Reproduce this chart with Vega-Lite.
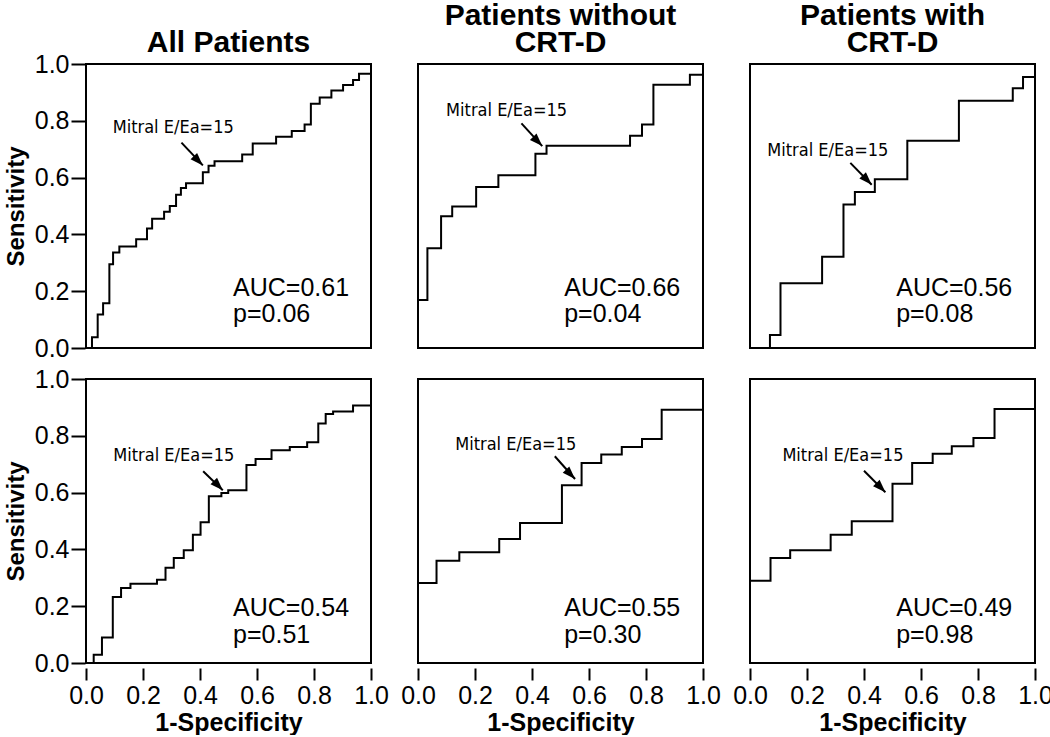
{
 "$schema": "https://vega.github.io/schema/vega-lite/v6.json",
 "background": "white",
 "padding": {"left": 4, "top": 1, "right": 5, "bottom": 0},
 "data": {"values": [
  {"c":"All Patients","r":1,"k":"curve","i":0,"x":0.021,"y":0},
  {"c":"All Patients","r":1,"k":"curve","i":1,"x":0.021,"y":0.038},
  {"c":"All Patients","r":1,"k":"curve","i":2,"x":0.041,"y":0.118},
  {"c":"All Patients","r":1,"k":"curve","i":3,"x":0.060,"y":0.158},
  {"c":"All Patients","r":1,"k":"curve","i":4,"x":0.082,"y":0.295},
  {"c":"All Patients","r":1,"k":"curve","i":5,"x":0.095,"y":0.336},
  {"c":"All Patients","r":1,"k":"curve","i":6,"x":0.117,"y":0.357},
  {"c":"All Patients","r":1,"k":"curve","i":7,"x":0.176,"y":0.383},
  {"c":"All Patients","r":1,"k":"curve","i":8,"x":0.214,"y":0.421},
  {"c":"All Patients","r":1,"k":"curve","i":9,"x":0.232,"y":0.455},
  {"c":"All Patients","r":1,"k":"curve","i":10,"x":0.274,"y":0.48},
  {"c":"All Patients","r":1,"k":"curve","i":11,"x":0.294,"y":0.50},
  {"c":"All Patients","r":1,"k":"curve","i":12,"x":0.316,"y":0.54},
  {"c":"All Patients","r":1,"k":"curve","i":13,"x":0.333,"y":0.563},
  {"c":"All Patients","r":1,"k":"curve","i":14,"x":0.351,"y":0.58},
  {"c":"All Patients","r":1,"k":"curve","i":15,"x":0.41,"y":0.619},
  {"c":"All Patients","r":1,"k":"curve","i":16,"x":0.43,"y":0.642},
  {"c":"All Patients","r":1,"k":"curve","i":17,"x":0.451,"y":0.658},
  {"c":"All Patients","r":1,"k":"curve","i":18,"x":0.548,"y":0.681},
  {"c":"All Patients","r":1,"k":"curve","i":19,"x":0.585,"y":0.72},
  {"c":"All Patients","r":1,"k":"curve","i":20,"x":0.667,"y":0.744},
  {"c":"All Patients","r":1,"k":"curve","i":21,"x":0.722,"y":0.764},
  {"c":"All Patients","r":1,"k":"curve","i":22,"x":0.767,"y":0.787},
  {"c":"All Patients","r":1,"k":"curve","i":23,"x":0.789,"y":0.86},
  {"c":"All Patients","r":1,"k":"curve","i":24,"x":0.82,"y":0.882},
  {"c":"All Patients","r":1,"k":"curve","i":25,"x":0.861,"y":0.907},
  {"c":"All Patients","r":1,"k":"curve","i":26,"x":0.902,"y":0.926},
  {"c":"All Patients","r":1,"k":"curve","i":27,"x":0.937,"y":0.944},
  {"c":"All Patients","r":1,"k":"curve","i":28,"x":0.958,"y":0.966},
  {"c":"All Patients","r":1,"k":"curve","i":29,"x":1.0,"y":1.0},

  {"c":"Patients without\nCRT-D","r":1,"k":"curve","i":0,"x":0,"y":0.169},
  {"c":"Patients without\nCRT-D","r":1,"k":"curve","i":1,"x":0.033,"y":0.351},
  {"c":"Patients without\nCRT-D","r":1,"k":"curve","i":2,"x":0.081,"y":0.464},
  {"c":"Patients without\nCRT-D","r":1,"k":"curve","i":3,"x":0.120,"y":0.498},
  {"c":"Patients without\nCRT-D","r":1,"k":"curve","i":4,"x":0.204,"y":0.567},
  {"c":"Patients without\nCRT-D","r":1,"k":"curve","i":5,"x":0.282,"y":0.608},
  {"c":"Patients without\nCRT-D","r":1,"k":"curve","i":6,"x":0.412,"y":0.684},
  {"c":"Patients without\nCRT-D","r":1,"k":"curve","i":7,"x":0.451,"y":0.712},
  {"c":"Patients without\nCRT-D","r":1,"k":"curve","i":8,"x":0.744,"y":0.747},
  {"c":"Patients without\nCRT-D","r":1,"k":"curve","i":9,"x":0.786,"y":0.787},
  {"c":"Patients without\nCRT-D","r":1,"k":"curve","i":10,"x":0.826,"y":0.927},
  {"c":"Patients without\nCRT-D","r":1,"k":"curve","i":11,"x":0.954,"y":0.962},
  {"c":"Patients without\nCRT-D","r":1,"k":"curve","i":12,"x":1.0,"y":1.0},

  {"c":"Patients with\nCRT-D","r":1,"k":"curve","i":0,"x":0.070,"y":0},
  {"c":"Patients with\nCRT-D","r":1,"k":"curve","i":1,"x":0.070,"y":0.046},
  {"c":"Patients with\nCRT-D","r":1,"k":"curve","i":2,"x":0.107,"y":0.228},
  {"c":"Patients with\nCRT-D","r":1,"k":"curve","i":3,"x":0.253,"y":0.321},
  {"c":"Patients with\nCRT-D","r":1,"k":"curve","i":4,"x":0.328,"y":0.505},
  {"c":"Patients with\nCRT-D","r":1,"k":"curve","i":5,"x":0.368,"y":0.549},
  {"c":"Patients with\nCRT-D","r":1,"k":"curve","i":6,"x":0.438,"y":0.594},
  {"c":"Patients with\nCRT-D","r":1,"k":"curve","i":7,"x":0.552,"y":0.73},
  {"c":"Patients with\nCRT-D","r":1,"k":"curve","i":8,"x":0.733,"y":0.871},
  {"c":"Patients with\nCRT-D","r":1,"k":"curve","i":9,"x":0.922,"y":0.915},
  {"c":"Patients with\nCRT-D","r":1,"k":"curve","i":10,"x":0.958,"y":0.954},
  {"c":"Patients with\nCRT-D","r":1,"k":"curve","i":11,"x":1.0,"y":1.0},

  {"c":"All Patients","r":2,"k":"curve","i":0,"x":0.027,"y":0},
  {"c":"All Patients","r":2,"k":"curve","i":1,"x":0.027,"y":0.029},
  {"c":"All Patients","r":2,"k":"curve","i":2,"x":0.056,"y":0.09},
  {"c":"All Patients","r":2,"k":"curve","i":3,"x":0.094,"y":0.232},
  {"c":"All Patients","r":2,"k":"curve","i":4,"x":0.123,"y":0.264},
  {"c":"All Patients","r":2,"k":"curve","i":5,"x":0.156,"y":0.279},
  {"c":"All Patients","r":2,"k":"curve","i":6,"x":0.249,"y":0.293},
  {"c":"All Patients","r":2,"k":"curve","i":7,"x":0.279,"y":0.335},
  {"c":"All Patients","r":2,"k":"curve","i":8,"x":0.308,"y":0.37},
  {"c":"All Patients","r":2,"k":"curve","i":9,"x":0.343,"y":0.397},
  {"c":"All Patients","r":2,"k":"curve","i":10,"x":0.375,"y":0.452},
  {"c":"All Patients","r":2,"k":"curve","i":11,"x":0.402,"y":0.496},
  {"c":"All Patients","r":2,"k":"curve","i":12,"x":0.431,"y":0.587},
  {"c":"All Patients","r":2,"k":"curve","i":13,"x":0.475,"y":0.599},
  {"c":"All Patients","r":2,"k":"curve","i":14,"x":0.499,"y":0.608},
  {"c":"All Patients","r":2,"k":"curve","i":15,"x":0.563,"y":0.697},
  {"c":"All Patients","r":2,"k":"curve","i":16,"x":0.595,"y":0.718},
  {"c":"All Patients","r":2,"k":"curve","i":17,"x":0.651,"y":0.749},
  {"c":"All Patients","r":2,"k":"curve","i":18,"x":0.715,"y":0.761},
  {"c":"All Patients","r":2,"k":"curve","i":19,"x":0.776,"y":0.777},
  {"c":"All Patients","r":2,"k":"curve","i":20,"x":0.815,"y":0.843},
  {"c":"All Patients","r":2,"k":"curve","i":21,"x":0.841,"y":0.877},
  {"c":"All Patients","r":2,"k":"curve","i":22,"x":0.867,"y":0.886},
  {"c":"All Patients","r":2,"k":"curve","i":23,"x":0.937,"y":0.907},
  {"c":"All Patients","r":2,"k":"curve","i":24,"x":1.0,"y":1.0},

  {"c":"Patients without\nCRT-D","r":2,"k":"curve","i":0,"x":0,"y":0.282},
  {"c":"Patients without\nCRT-D","r":2,"k":"curve","i":1,"x":0.065,"y":0.36},
  {"c":"Patients without\nCRT-D","r":2,"k":"curve","i":2,"x":0.145,"y":0.39},
  {"c":"Patients without\nCRT-D","r":2,"k":"curve","i":3,"x":0.285,"y":0.437},
  {"c":"Patients without\nCRT-D","r":2,"k":"curve","i":4,"x":0.358,"y":0.493},
  {"c":"Patients without\nCRT-D","r":2,"k":"curve","i":5,"x":0.505,"y":0.626},
  {"c":"Patients without\nCRT-D","r":2,"k":"curve","i":6,"x":0.574,"y":0.704},
  {"c":"Patients without\nCRT-D","r":2,"k":"curve","i":7,"x":0.643,"y":0.734},
  {"c":"Patients without\nCRT-D","r":2,"k":"curve","i":8,"x":0.715,"y":0.761},
  {"c":"Patients without\nCRT-D","r":2,"k":"curve","i":9,"x":0.786,"y":0.789},
  {"c":"Patients without\nCRT-D","r":2,"k":"curve","i":10,"x":0.855,"y":0.892},
  {"c":"Patients without\nCRT-D","r":2,"k":"curve","i":11,"x":1.0,"y":1.0},

  {"c":"Patients with\nCRT-D","r":2,"k":"curve","i":0,"x":0,"y":0.29},
  {"c":"Patients with\nCRT-D","r":2,"k":"curve","i":1,"x":0.072,"y":0.37},
  {"c":"Patients with\nCRT-D","r":2,"k":"curve","i":2,"x":0.141,"y":0.397},
  {"c":"Patients with\nCRT-D","r":2,"k":"curve","i":3,"x":0.283,"y":0.452},
  {"c":"Patients with\nCRT-D","r":2,"k":"curve","i":4,"x":0.357,"y":0.499},
  {"c":"Patients with\nCRT-D","r":2,"k":"curve","i":5,"x":0.5,"y":0.631},
  {"c":"Patients with\nCRT-D","r":2,"k":"curve","i":6,"x":0.569,"y":0.704},
  {"c":"Patients with\nCRT-D","r":2,"k":"curve","i":7,"x":0.641,"y":0.737},
  {"c":"Patients with\nCRT-D","r":2,"k":"curve","i":8,"x":0.708,"y":0.763},
  {"c":"Patients with\nCRT-D","r":2,"k":"curve","i":9,"x":0.784,"y":0.792},
  {"c":"Patients with\nCRT-D","r":2,"k":"curve","i":10,"x":0.858,"y":0.894},
  {"c":"Patients with\nCRT-D","r":2,"k":"curve","i":11,"x":1.0,"y":1.0},

  {"c":"All Patients","r":1,"k":"note","t":"Mitral E/Ea=15","x":0.306,"y":0.776,"ax":0.335,"ay":0.723,"ax2":0.41,"ay2":0.643},
  {"c":"Patients without\nCRT-D","r":1,"k":"note","t":"Mitral E/Ea=15","x":0.311,"y":0.835,"ax":0.363,"ay":0.791,"ax2":0.436,"ay2":0.711},
  {"c":"Patients with\nCRT-D","r":1,"k":"note","t":"Mitral E/Ea=15","x":0.273,"y":0.694,"ax":0.352,"ay":0.652,"ax2":0.427,"ay2":0.575},
  {"c":"All Patients","r":2,"k":"note","t":"Mitral E/Ea=15","x":0.308,"y":0.728,"ax":0.411,"ay":0.675,"ax2":0.48,"ay2":0.608},
  {"c":"Patients without\nCRT-D","r":2,"k":"note","t":"Mitral E/Ea=15","x":0.343,"y":0.769,"ax":0.48,"ay":0.728,"ax2":0.551,"ay2":0.648},
  {"c":"Patients with\nCRT-D","r":2,"k":"note","t":"Mitral E/Ea=15","x":0.326,"y":0.73,"ax":0.40,"ay":0.677,"ax2":0.475,"ay2":0.601},

  {"c":"All Patients","r":1,"k":"auc","t":"AUC=0.61","x":0.516,"y":0.184},
  {"c":"All Patients","r":1,"k":"auc","t":"p=0.06","x":0.516,"y":0.09},
  {"c":"Patients without\nCRT-D","r":1,"k":"auc","t":"AUC=0.66","x":0.513,"y":0.184},
  {"c":"Patients without\nCRT-D","r":1,"k":"auc","t":"p=0.04","x":0.513,"y":0.09},
  {"c":"Patients with\nCRT-D","r":1,"k":"auc","t":"AUC=0.56","x":0.513,"y":0.184},
  {"c":"Patients with\nCRT-D","r":1,"k":"auc","t":"p=0.08","x":0.513,"y":0.09},
  {"c":"All Patients","r":2,"k":"auc","t":"AUC=0.54","x":0.516,"y":0.165},
  {"c":"All Patients","r":2,"k":"auc","t":"p=0.51","x":0.516,"y":0.07},
  {"c":"Patients without\nCRT-D","r":2,"k":"auc","t":"AUC=0.55","x":0.513,"y":0.165},
  {"c":"Patients without\nCRT-D","r":2,"k":"auc","t":"p=0.30","x":0.513,"y":0.07},
  {"c":"Patients with\nCRT-D","r":2,"k":"auc","t":"AUC=0.49","x":0.513,"y":0.165},
  {"c":"Patients with\nCRT-D","r":2,"k":"auc","t":"p=0.98","x":0.513,"y":0.07}
 ]},
 "facet": {
  "row": {"field": "r", "type": "ordinal", "title": null, "header": {"labels": false}},
  "column": {"field": "c", "type": "nominal", "title": null,
   "sort": ["All Patients", "Patients without\nCRT-D", "Patients with\nCRT-D"],
   "header": {"labelExpr": "length(split(datum.label, '\\n')) < 2 ? [' ', datum.label] : split(datum.label, '\\n')", "labelFont": "Liberation Sans", "labelFontSize": 30, "labelFontWeight": "bold", "labelColor": "black", "labelLineHeight": 27, "labelBaseline": "top", "labelPadding": 1}}
 },
 "spacing": {"row": 21, "column": 37},
 "spec": {
  "width": 285,
  "height": 284,
  "layer": [
   {
    "transform": [{"filter": "datum.k === 'curve'"}],
    "mark": {"type": "line", "interpolate": "step-after", "color": "black", "strokeWidth": 2},
    "encoding": {
     "x": {"field": "x", "type": "quantitative", "scale": {"domain": [0, 1], "nice": false, "zero": false},
       "axis": {"title": "1-Specificity", "values": [0, 0.2, 0.4, 0.6, 0.8, 1], "format": ".1f"}},
     "y": {"field": "y", "type": "quantitative", "scale": {"domain": [0, 1], "nice": false, "zero": false},
       "axis": {"title": "Sensitivity", "values": [0, 0.2, 0.4, 0.6, 0.8, 1], "format": ".1f"}},
     "order": {"field": "i", "type": "quantitative"}
    }
   },
   {
    "transform": [{"filter": "datum.k === 'note'"}],
    "mark": {"type": "rule", "color": "black", "strokeWidth": 2},
    "encoding": {
     "x": {"field": "ax", "type": "quantitative"},
     "y": {"field": "ay", "type": "quantitative"},
     "x2": {"field": "ax2"},
     "y2": {"field": "ay2"}
    }
   },
   {
    "transform": [{"filter": "datum.k === 'note'"}],
    "mark": {"type": "point", "shape": "M0,0L0.7,2L-0.7,2Z", "size": 169, "angle": 136, "filled": true, "color": "black", "opacity": 1, "strokeWidth": 0},
    "encoding": {
     "x": {"field": "ax2", "type": "quantitative"},
     "y": {"field": "ay2", "type": "quantitative"}
    }
   },
   {
    "transform": [{"filter": "datum.k === 'note'"}],
    "mark": {"type": "text", "align": "center", "baseline": "middle", "font": "Liberation Sans Narrow, Arial Narrow, DejaVu Sans Condensed, sans-serif", "fontSize": 18, "color": "black"},
    "encoding": {
     "x": {"field": "x", "type": "quantitative"},
     "y": {"field": "y", "type": "quantitative"},
     "text": {"field": "t"}
    }
   },
   {
    "transform": [{"filter": "datum.k === 'auc'"}],
    "mark": {"type": "text", "align": "left", "baseline": "alphabetic", "font": "Liberation Sans", "fontSize": 25, "color": "black"},
    "encoding": {
     "x": {"field": "x", "type": "quantitative"},
     "y": {"field": "y", "type": "quantitative"},
     "text": {"field": "t"}
    }
   }
  ]
 },
 "config": {
  "view": {"stroke": "black", "strokeWidth": 2},
  "axis": {"grid": false, "domain": false, "tickColor": "black", "tickWidth": 2, "labelColor": "black", "labelFont": "Liberation Sans", "labelFontSize": 25, "labelFlush": false, "labelOverlap": false, "labelBound": false, "titleFont": "Liberation Sans", "titleFontSize": 25, "titleFontWeight": "bold", "titleColor": "black"},
  "axisY": {"tickSize": 14, "labelPadding": 2, "titlePadding": 6, "titleFontSize": 24},
  "axisX": {"tickSize": 12, "labelPadding": 3, "titlePadding": 2}
 }
}
